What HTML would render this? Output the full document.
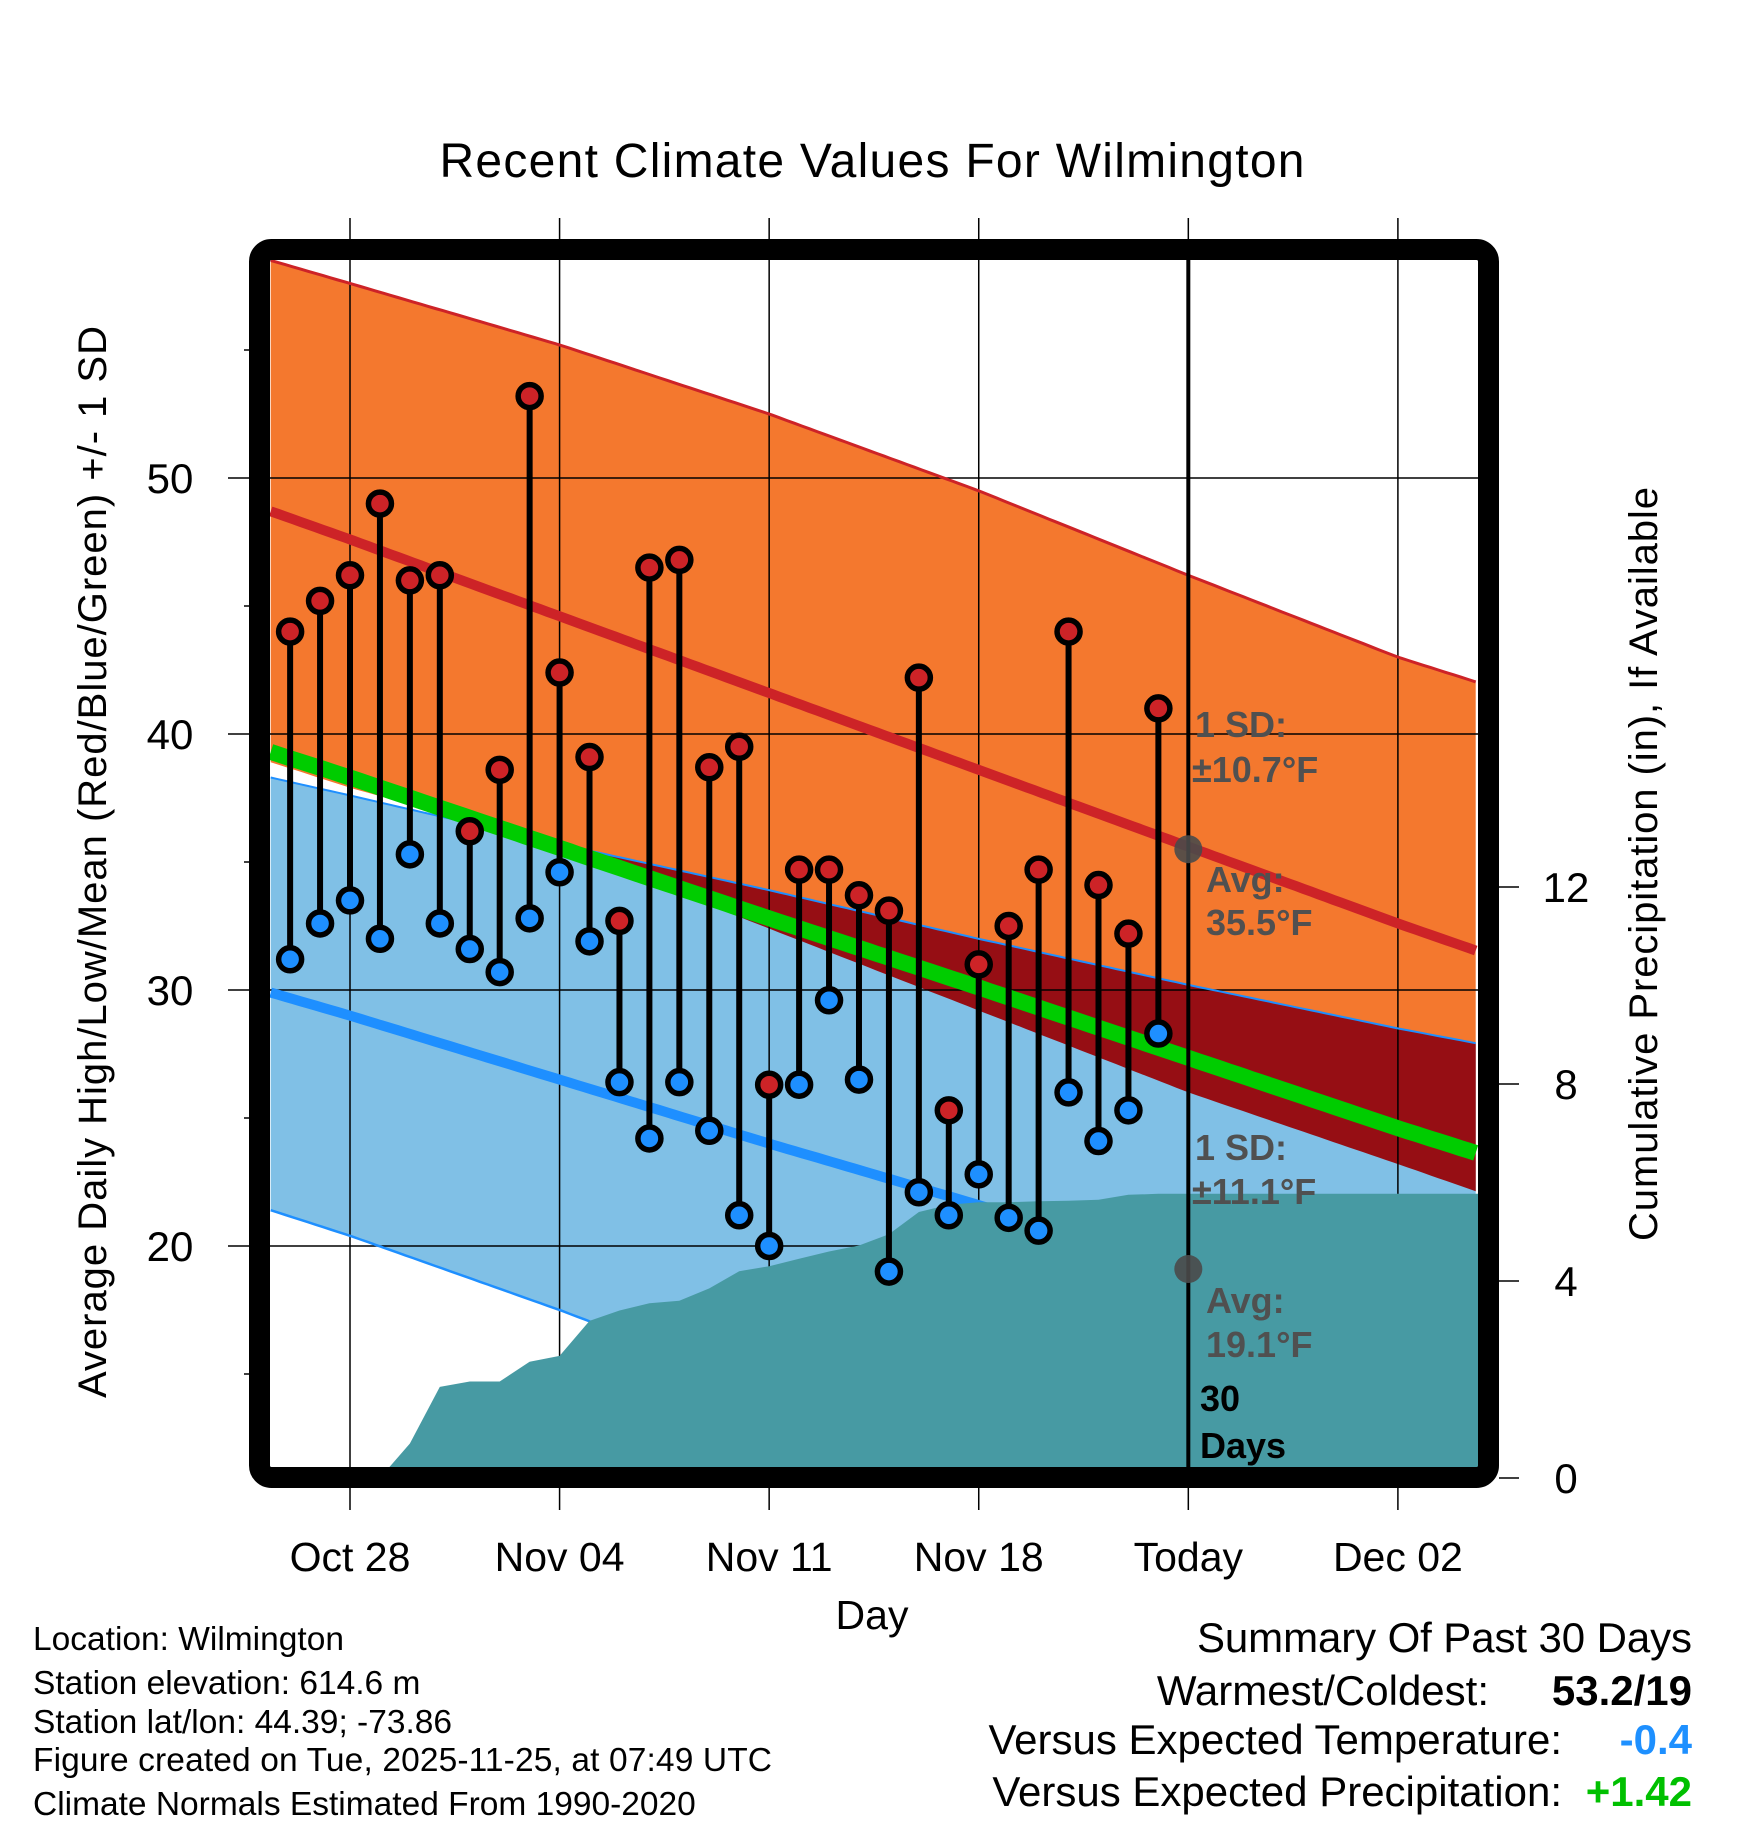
<!DOCTYPE html>
<html><head><meta charset="utf-8">
<style>
html,body{margin:0;padding:0;background:#fff;}
svg{display:block;font-family:"Liberation Sans",Arial,sans-serif;}
</style></head>
<body>
<svg id="chart" width="1748" height="1828" viewBox="0 0 1748 1828" xmlns="http://www.w3.org/2000/svg">
<defs><clipPath id="plotclip"><rect x="270" y="260" width="1208" height="1208"/></clipPath></defs>
<text x="872" y="177" font-size="48" text-anchor="middle" textLength="865">Recent Climate Values For Wilmington</text>
<g id="bands" clip-path="url(#plotclip)"></g>
<g id="grid"></g>
<g id="lines" clip-path="url(#plotclip)"></g>
<g id="precip" clip-path="url(#plotclip)"></g>
<g id="obs"></g>
<g id="annot"></g>
<rect x="259.5" y="249.5" width="1229" height="1228" rx="12" fill="none" stroke="#000" stroke-width="21"/>
<g id="axes"></g>
<text x="872" y="1629" font-size="41" text-anchor="middle">Day</text>
<text transform="translate(106,862) rotate(-90)" font-size="40" text-anchor="middle" textLength="1072">Average Daily High/Low/Mean (Red/Blue/Green) +/- 1 SD</text>
<text transform="translate(1657,864) rotate(-90)" font-size="40" text-anchor="middle" textLength="754">Cumulative Precipitation (in), If Available</text>
<g font-size="33.5">
<text x="33" y="1650">Location: Wilmington</text>
<text x="33" y="1694">Station elevation: 614.6 m</text>
<text x="33" y="1733">Station lat/lon: 44.39; -73.86</text>
<text x="33" y="1771" textLength="739">Figure created on Tue, 2025-11-25, at 07:49 UTC</text>
<text x="33" y="1815">Climate Normals Estimated From 1990-2020</text>
</g>
<g font-size="42" text-anchor="end">
<text x="1692" y="1652" textLength="495">Summary Of Past 30 Days</text>
<text x="1489" y="1705">Warmest/Coldest:</text>
<text x="1692" y="1705" font-weight="bold">53.2/19</text>
<text x="1562" y="1754">Versus Expected Temperature:</text>
<text x="1692" y="1754" font-weight="bold" fill="#1e90ff">-0.4</text>
<text x="1562" y="1806">Versus Expected Precipitation:</text>
<text x="1692" y="1806" font-weight="bold" fill="#00c000">+1.42</text>
</g>
</svg>
<script>
// days relative to Oct 28
const normDays = [-2.65, 0, 7, 14, 21, 28, 35, 37.7];
const hiUpper = [58.5, 57.6, 55.2, 52.5, 49.5, 46.2, 43.0, 42.0];
const hiMean  = [48.7, 47.6, 44.6, 41.6, 38.6, 35.6, 32.6, 31.5];
const hiLower = [38.9, 37.9, 35.6, 32.4, 29.2, 26.0, 23.2, 22.1];
const loUpper = [38.3, 37.6, 35.7, 33.9, 32.0, 30.2, 28.5, 27.9];
const loMean  = [29.9, 29.0, 26.5, 24.0, 21.6, 19.1, 16.6, 15.7];
const loLower = [21.4, 20.4, 17.5, 14.4, 11.3, 8.0, 5.0, 4.0];
const obsDays = [-2,-1,0,1,2,3,4,5,6,7,8,9,10,11,12,13,14,15,16,17,18,19,20,21,22,23,24,25,26,27];
const highs = [44,45.2,46.2,49,46,46.2,36.2,38.6,53.2,42.4,39.1,32.7,46.5,46.8,38.7,39.5,26.3,34.7,34.7,33.7,33.1,42.2,25.3,31.0,32.5,34.7,44,34.1,32.2,41];
const lows  = [31.2,32.6,33.5,32,35.3,32.6,31.6,30.7,32.8,34.6,31.9,26.4,24.2,26.4,24.5,21.2,20.0,26.3,29.6,26.5,19,22.1,21.2,22.8,21.1,20.6,26,24.1,25.3,28.3];
const precipDays = [-2,-1,0,1,2,3,4,5,6,7,8,9,10,11,12,13,14,15,16,17,18,19,20,21,22,23,24,25,26,27,28,37.7];
const precipCum = [0,0,0,0,0.7,1.85,1.96,1.96,2.36,2.48,3.19,3.4,3.55,3.6,3.85,4.2,4.3,4.45,4.6,4.72,4.95,5.4,5.55,5.6,5.6,5.62,5.63,5.65,5.75,5.77,5.77,5.77];
const xTickDays = [0,7,14,21,28,35];
const xTickLabels = ["Oct 28","Nov 04","Nov 11","Nov 18","Today","Dec 02"];
const yTicks = [20,30,40,50];
const yMinor = [15,25,35,45,55];
const y2Ticks = [0,4,8,12];
const todayDay = 28;
const todayHiAvg = 35.5, todayLoAvg = 19.1;

const NS="http://www.w3.org/2000/svg";
const X = d => 350 + d*29.94;
const Y = t => 478 + (50-t)*25.6;
const P = p => 1478 - p*49.25;
function mk(tag, parent, attrs){const e=document.createElementNS(NS,tag);for(const k in attrs)e.setAttribute(k,attrs[k]);document.getElementById(parent).appendChild(e);return e;}
function interp(xs, ys, x){ if(x<=xs[0])return ys[0]; for(let i=1;i<xs.length;i++){ if(x<=xs[i]){const f=(x-xs[i-1])/(xs[i]-xs[i-1]);return ys[i-1]+f*(ys[i]-ys[i-1]);} } return ys[ys.length-1]; }
const samp=[]; for(let d=normDays[0]; d<=normDays[normDays.length-1]+0.001; d+=0.25) samp.push(d);
function linePts(arr){return samp.map(d=>X(d).toFixed(1)+","+Y(interp(normDays,arr,d)).toFixed(1)).join(" ");}
function bandPts(up,lo){return samp.map(d=>X(d).toFixed(1)+","+Y(interp(normDays,up,d)).toFixed(1)).concat(samp.slice().reverse().map(d=>X(d).toFixed(1)+","+Y(interp(normDays,lo,d)).toFixed(1))).join(" ");}

let e;
e=mk('polygon','bands',{points:bandPts(hiUpper,hiLower),fill:'#f4782e'});


e=mk('polygon','bands',{points:bandPts(loUpper,loLower),fill:'#80c0e6'});


const ovTop=[],ovBot=[];
samp.forEach(d=>{const a=Math.min(interp(normDays,hiUpper,d),interp(normDays,loUpper,d));const b=Math.max(interp(normDays,hiLower,d),interp(normDays,loLower,d));ovTop.push(a);ovBot.push(Math.min(a,b));});
const ovPts=samp.map((d,i)=>X(d).toFixed(1)+","+Y(ovTop[i]).toFixed(1)).concat(samp.map((d,i)=>X(d).toFixed(1)+","+Y(ovBot[i]).toFixed(1)).reverse()).join(" ");
e=mk('polygon','bands',{points:ovPts,fill:'#960e14'});



xTickDays.forEach((d,i)=>{
  e=mk('line','grid',{x1:X(d),x2:X(d),y1:218,y2:1510,stroke:'#000','stroke-width':1.5});
  
  
  e=mk('text','axes',{x:X(d),y:1571,'font-size':41,'text-anchor':'middle'});
  e.textContent=xTickLabels[i];
  
  
});
yTicks.forEach(t=>{
  e=mk('line','grid',{x1:228,x2:1478,y1:Y(t),y2:Y(t),stroke:'#000','stroke-width':1.5});
  
  
  e=mk('text','axes',{x:170,y:Y(t)+15,'font-size':42,'text-anchor':'middle'});
  e.textContent=t;
  
  
});
yMinor.forEach(t=>{
  e=mk('line','axes',{x1:244,x2:250,y1:Y(t),y2:Y(t),stroke:'#000','stroke-width':1.5});
  
  
});
y2Ticks.forEach(p=>{
  e=mk('line','axes',{x1:1499,x2:1519,y1:P(p),y2:P(p),stroke:'#000','stroke-width':1.5});
  
  
  e=mk('text','axes',{x:1566,y:P(p)+15,'font-size':42,'text-anchor':'middle'});
  e.textContent=p;
  
  
});

function pl(arr,color,w){return mk('polyline','lines',{points:linePts(arr),fill:'none',stroke:color,'stroke-width':w});}
e=pl(hiUpper,'#cd2327',3);


e=pl(loUpper,'#1e8fff',2);


e=pl(loLower,'#1e8fff',2.5);


e=pl(hiMean,'#cd2327',10);


e=pl(loMean,'#1e8fff',10);


const midMean=hiMean.map((v,i)=>(v+loMean[i])/2);
e=pl(midMean,'#00cc00',16);



const pp=precipDays.map((d,i)=>X(d).toFixed(1)+","+P(precipCum[i]).toFixed(1));
pp.push(X(precipDays[precipDays.length-1])+","+P(0)); pp.push(X(precipDays[0])+","+P(0));
e=mk('polygon','precip',{points:pp.join(" "),fill:'#479aa3'});



e=mk('line','annot',{x1:X(todayDay),x2:X(todayDay),y1:260,y2:1468,stroke:'#000','stroke-width':4});



obsDays.forEach((d,i)=>{
  e=mk('line','obs',{x1:X(d),x2:X(d),y1:Y(highs[i]),y2:Y(lows[i]),stroke:'#000','stroke-width':6});
  
  
  e=mk('circle','obs',{cx:X(d),cy:Y(highs[i]),r:11.5,fill:'#cd2327',stroke:'#000','stroke-width':5.5});
  
  
  e=mk('circle','obs',{cx:X(d),cy:Y(lows[i]),r:11.5,fill:'#1e8fff',stroke:'#000','stroke-width':5.5});
  
  
});

e=mk('circle','annot',{cx:X(todayDay),cy:Y(todayHiAvg),r:14,fill:'#4a4a4a','fill-opacity':0.9});


e=mk('circle','annot',{cx:X(todayDay),cy:Y(todayLoAvg),r:14,fill:'#4a4a4a','fill-opacity':0.9});


const notes=[["1 SD:",1195,737,'#505050'],["±10.7°F",1192,782,'#505050'],["Avg:",1206,892,'#505050'],["35.5°F",1206,935,'#505050'],
["1 SD:",1195,1160,'#505050'],["±11.1°F",1192,1204,'#505050'],["Avg:",1206,1313,'#505050'],["19.1°F",1206,1357,'#505050'],
["30",1200,1411,'#000'],["Days",1200,1458,'#000']];
notes.forEach(n=>{
  e=mk('text','annot',{x:n[1],y:n[2],'font-size':36,'font-weight':'bold',fill:n[3]});
  e.textContent=n[0];
  
  
});
</script>
</body></html>
